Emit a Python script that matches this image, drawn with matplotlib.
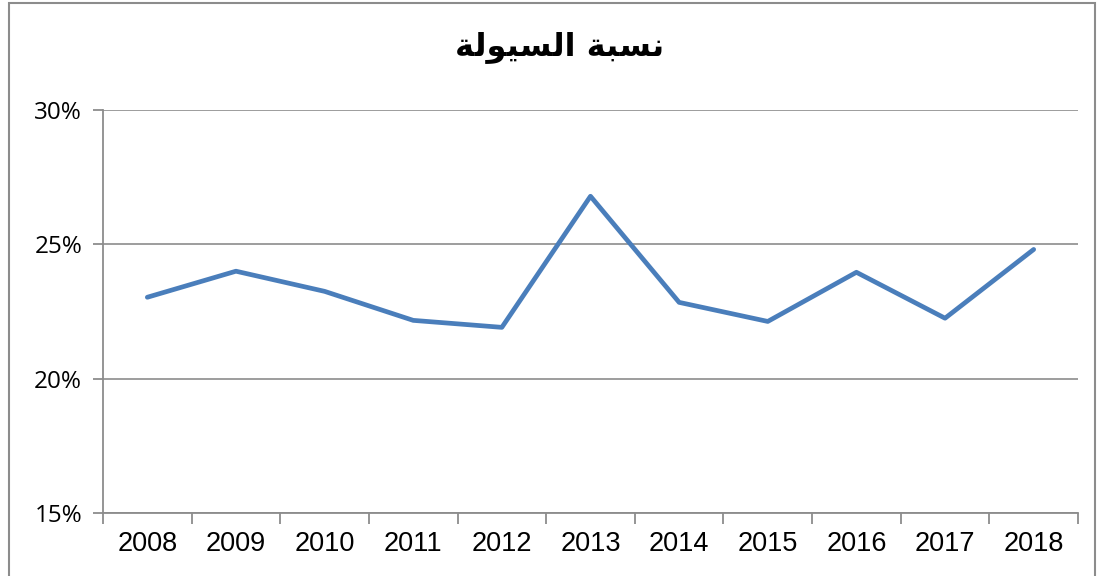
import matplotlib.pyplot as plt
from matplotlib.patches import Rectangle
from matplotlib.ticker import FuncFormatter

# Arabic title written in visual order with presentation forms (no shaping engine available)
title = "\uFE94\uFEDF\uFEEE\uFEF4\uFEB4\uFEDF\uFE8D \uFE94\uFE92\uFEB4\uFEE7"

years = ['2008', '2009', '2010', '2011', '2012', '2013', '2014', '2015', '2016', '2017', '2018']
liquidity = [0.2303, 0.2400, 0.2325, 0.2217, 0.2191, 0.2679, 0.2284, 0.2213, 0.2396, 0.2225, 0.2481]

grey = '#8c8c8c'

fig = plt.figure(figsize=(11.04, 5.76), dpi=100)
ax = fig.add_axes([103 / 1104, 63 / 576, 975 / 1104, 403 / 576])

x = list(range(len(years)))
ax.plot(x, liquidity, color='#4A7EBB', linewidth=3.4, solid_capstyle='round', zorder=3)

ax.set_xlim(-0.5, len(years) - 0.5)
ax.set_ylim(0.15, 0.30)

ax.set_yticks([0.15, 0.20, 0.25, 0.30])
ax.yaxis.set_major_formatter(FuncFormatter(lambda v, p: f'{v * 100:.0f}%'))
ax.grid(axis='y', color=grey, linewidth=1.2)
ax.set_axisbelow(True)

# category boundaries as major ticks, labels at centres
ax.set_xticks([i - 0.5 for i in range(len(years) + 1)])
ax.set_xticklabels([])
ax.set_xticks(x, minor=True)
ax.set_xticklabels(years, minor=True, fontsize=19.5, family='Liberation Sans')
ax.tick_params(axis='x', which='major', length=8, width=1.3, color=grey, direction='out')
ax.tick_params(axis='x', which='minor', length=0, pad=13)
ax.tick_params(axis='y', length=7, width=1.3, color=grey, pad=8)
for lab in ax.get_yticklabels():
    lab.set_fontsize(17.5)
    lab.set_family('Open Sans')

for s in ['top', 'right']:
    ax.spines[s].set_visible(False)
for s in ['left', 'bottom']:
    ax.spines[s].set_color(grey)
    ax.spines[s].set_linewidth(1.3)

fig.text(560 / 1104, 1 - 47 / 576, title, ha='center', va='center',
         fontsize=23, fontweight='bold', family=['DejaVu Sans'])

# outer chart border
fig.patches.append(Rectangle((9 / 1104, -0.05), 1086 / 1104, 1.0 - 3 / 576 + 0.05,
                             transform=fig.transFigure, fill=False,
                             edgecolor=grey, linewidth=1.5))

fig.savefig('out.png', dpi=100)
